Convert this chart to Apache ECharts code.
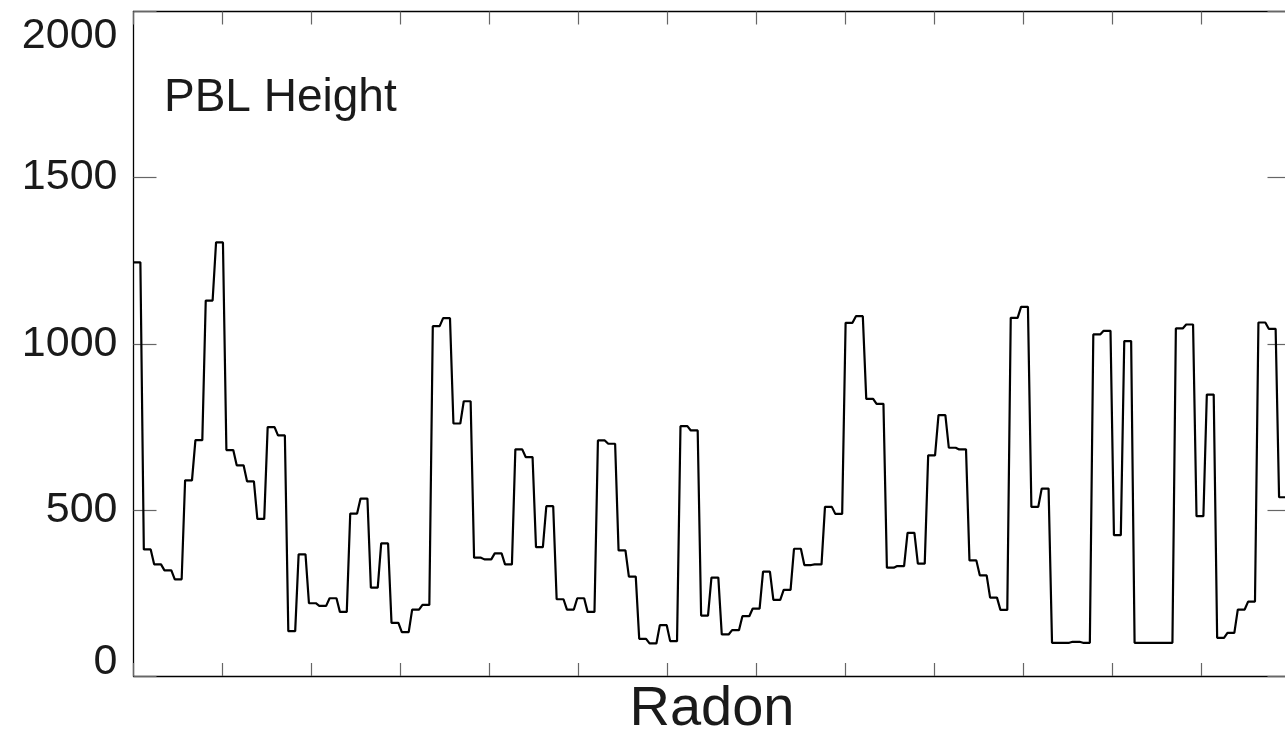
<!DOCTYPE html>
<html>
<head>
<meta charset="utf-8">
<title>PBL Height</title>
<script src="https://cdn.jsdelivr.net/npm/echarts@6/dist/echarts.min.js"></script>
<style>
  html, body { margin: 0; padding: 0; background: #fff; }
  #chart { width: 1285px; height: 734px; }
</style>
</head>
<body>
<div id="chart"></div>
<script>
// PBL height, one value per sample step
const pblHeight = [
  1245, 381, 336, 318, 291, 589, 710, 1130, 1305, 680,
  634, 586, 473, 749, 724, 135, 366, 219, 211, 234,
  193, 489, 534, 266, 399, 160, 132, 200, 214, 1053,
  1077, 760, 827, 356, 351, 369, 336, 682, 659, 388,
  511, 231, 200, 234, 193, 709, 699, 378, 299, 112,
  98, 153, 105, 752, 739, 182, 296, 125, 138, 180,
  203, 314, 229, 259, 383, 334, 336, 509, 488, 1063,
  1083, 834, 819, 326, 331, 431, 338, 664, 785, 687,
  682, 348, 303, 236, 199, 1078, 1111, 509, 564, 100,
  100, 103, 100, 1028, 1039, 424, 1008, 100, 100, 100,
  100, 1046, 1058, 481, 847, 115, 130, 200, 224, 1064,
  1045, 538
];
const yTicks = [0, 500, 1000, 1500, 2000];
const xTickCount = 13;

// sample spacing in x-tick units, each value is held for 2/3 of a step
const STEP = 0.11596;
const HOLD = STEP * 2 / 3;

const lineData = [];
pblHeight.forEach(function (v, k) {
  lineData.push([k * STEP, v]);
  lineData.push([k * STEP + HOLD, v]);
});

const FONT = 'Liberation Sans';
const textColor = '#1a1a1a';
const axisColor = '#000';
const tickColor = '#666';
const labelSize = 43;

const chart = echarts.init(document.getElementById('chart'));

const xBase = {
  type: 'value',
  min: 0,
  max: xTickCount,
  interval: 1,
  axisLine: { show: true, onZero: false, lineStyle: { color: axisColor, width: 1.3 } },
  axisTick: { show: true, inside: true, length: 13, lineStyle: { color: tickColor, width: 1.2 } },
  axisLabel: { show: false },
  splitLine: { show: false }
};
const yBase = {
  type: 'value',
  min: yTicks[0],
  max: yTicks[yTicks.length - 1],
  interval: 500,
  axisLine: { show: true, onZero: false, lineStyle: { color: axisColor, width: 1.3 } },
  axisTick: { show: true, inside: true, length: 23, lineStyle: { color: tickColor, width: 1.2 } },
  splitLine: { show: false }
};

const option = {
  animation: false,
  backgroundColor: '#fff',
  grid: { left: 133.5, top: 11.5, width: 1157, height: 664.5, outerBoundsMode: 'none', containLabel: false },
  graphic: [{
    type: 'text',
    left: 164,
    top: 75,
    style: { text: 'PBL Height', font: '46px "' + FONT + '"', fill: textColor }
  }],
  xAxis: [
    Object.assign({}, xBase, {
      position: 'bottom',
      name: 'Radon',
      nameLocation: 'middle',
      nameGap: 6,
      nameTextStyle: { fontFamily: FONT, fontSize: 56, color: textColor, verticalAlign: 'top' }
    }),
    Object.assign({}, xBase, { position: 'top' })
  ],
  yAxis: [
    Object.assign({}, yBase, {
      position: 'left',
      axisLabel: {
        show: true,
        margin: 16,
        fontFamily: FONT,
        fontSize: labelSize,
        color: textColor,
        formatter: function (v) {
          if (v === 2000) return '{hi|' + v + '}';
          if (v === 0) return '{lo|' + v + '}';
          return '{mid|' + v + '}';
        },
        rich: {
          hi: { fontFamily: FONT, fontSize: labelSize, color: textColor, padding: [49, 0, 0, 0] },
          lo: { fontFamily: FONT, fontSize: labelSize, color: textColor, padding: [0, 0, 28, 0] },
          mid: { fontFamily: FONT, fontSize: labelSize, color: textColor }
        }
      }
    }),
    Object.assign({}, yBase, { position: 'right', axisLabel: { show: false } })
  ],
  series: [{
    type: 'line',
    data: lineData,
    showSymbol: false,
    clip: true,
    lineStyle: { color: '#000', width: 2.2 }
  }]
};

chart.setOption(option);
</script>
</body>
</html>
